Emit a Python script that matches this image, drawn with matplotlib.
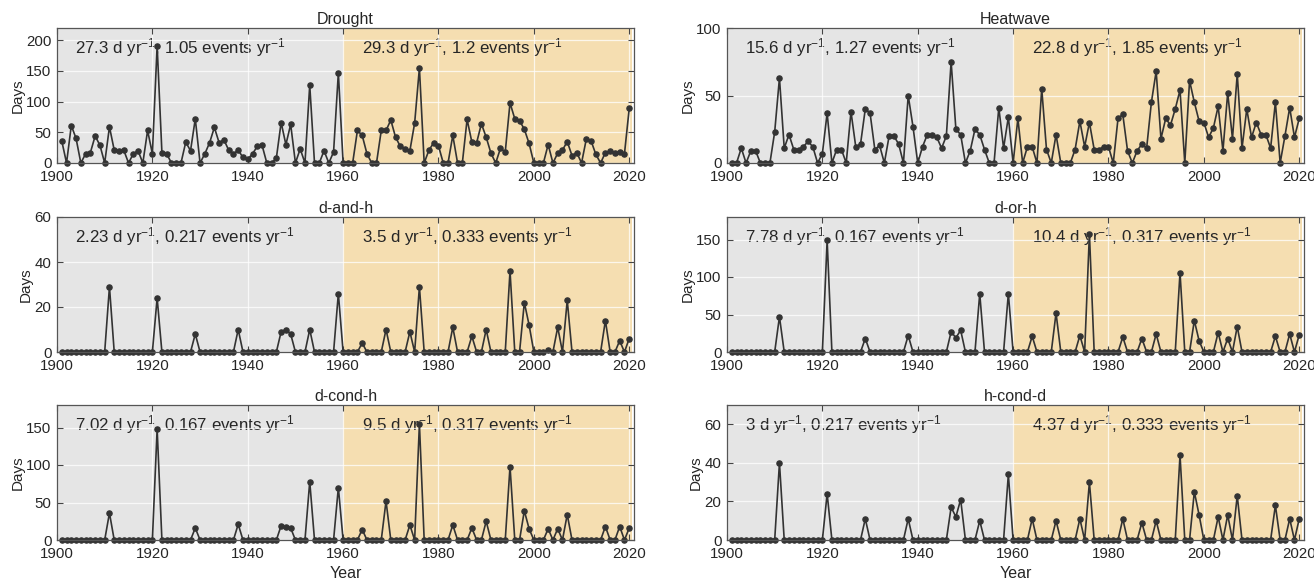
import matplotlib
matplotlib.use("Agg")
import matplotlib.pyplot as plt
import matplotlib.transforms as mtransforms
import numpy as np

plt.rcParams['font.family'] = ['Liberation Sans', 'DejaVu Sans']
plt.rcParams['mathtext.fontset'] = 'custom'
plt.rcParams['mathtext.rm'] = 'Liberation Sans'
plt.rcParams['mathtext.it'] = 'Liberation Sans:italic'
plt.rcParams['mathtext.default'] = 'regular'

years = list(range(1901, 2021))

drought = [
    36, 0, 61, 40, 0, 15, 17, 44, 29, 0,
    59, 21, 20, 21, 0, 15, 20, 0, 53, 15,
    191, 17, 15, 0, 0, 0, 34, 20, 72, 0,
    15, 33, 58, 33, 38, 21, 15, 21, 9, 6,
    15, 27, 29, 0, 0, 8, 66, 30, 63, 0,
    23, 0, 127, 0, 0, 20, 0, 18, 147, 0,
    0, 0, 53, 45, 15, 0, 0, 53, 53, 70,
    42, 27, 23, 20, 65, 155, 0, 21, 33, 28,
    0, 0, 45, 0, 0, 71, 34, 33, 64, 42,
    16, 0, 24, 18, 98, 72, 69, 55, 32, 0,
    0, 0, 30, 0, 16, 21, 35, 12, 17, 0,
    39, 36, 14, 0, 17, 19, 16, 18, 15, 89,
]

heatwave = [
    0, 0, 11, 0, 9, 9, 0, 0, 0, 23,
    63, 11, 21, 10, 10, 12, 16, 12, 0, 7,
    37, 0, 10, 10, 0, 38, 12, 14, 40, 37,
    10, 13, 0, 20, 20, 14, 0, 50, 27, 0,
    12, 21, 21, 19, 11, 20, 75, 25, 21, 0,
    9, 25, 21, 10, 0, 0, 41, 11, 34, 0,
    33, 0, 12, 12, 0, 55, 10, 0, 21, 0,
    0, 0, 10, 31, 12, 30, 10, 10, 12, 12,
    0, 33, 36, 9, 0, 9, 14, 11, 45, 68,
    18, 33, 28, 40, 54, 0, 61, 45, 31, 30,
    19, 26, 42, 9, 52, 18, 66, 11, 40, 19,
    30, 21, 21, 11, 45, 0, 20, 41, 19, 33,
]

d_and_h = [
    0, 0, 0, 0, 0, 0, 0, 0, 0, 0,
    29, 0, 0, 0, 0, 0, 0, 0, 0, 0,
    24, 0, 0, 0, 0, 0, 0, 0, 8, 0,
    0, 0, 0, 0, 0, 0, 0, 10, 0, 0,
    0, 0, 0, 0, 0, 0, 9, 10, 8, 0,
    0, 0, 10, 0, 0, 0, 0, 0, 26, 0,
    0, 0, 0, 4, 0, 0, 0, 0, 10, 0,
    0, 0, 0, 9, 0, 29, 0, 0, 0, 0,
    0, 0, 11, 0, 0, 0, 7, 0, 0, 10,
    0, 0, 0, 0, 36, 0, 0, 22, 12, 0,
    0, 0, 1, 0, 11, 0, 23, 0, 0, 0,
    0, 0, 0, 0, 14, 0, 0, 5, 0, 6,
]

d_or_h = [
    0, 0, 0, 0, 0, 0, 0, 0, 0, 0,
    47, 0, 0, 0, 0, 0, 0, 0, 0, 0,
    149, 0, 0, 0, 0, 0, 0, 0, 18, 0,
    0, 0, 0, 0, 0, 0, 0, 22, 0, 0,
    0, 0, 0, 0, 0, 0, 27, 19, 29, 0,
    0, 0, 78, 0, 0, 0, 0, 0, 78, 0,
    0, 0, 0, 21, 0, 0, 0, 0, 52, 0,
    0, 0, 0, 22, 0, 158, 0, 0, 0, 0,
    0, 0, 20, 0, 0, 0, 18, 0, 0, 24,
    0, 0, 0, 0, 106, 0, 0, 42, 15, 0,
    0, 0, 26, 0, 18, 0, 34, 0, 0, 0,
    0, 0, 0, 0, 21, 0, 0, 24, 0, 23,
]

d_cond_h = [
    0, 0, 0, 0, 0, 0, 0, 0, 0, 0,
    36, 0, 0, 0, 0, 0, 0, 0, 0, 0,
    148, 0, 0, 0, 0, 0, 0, 0, 16, 0,
    0, 0, 0, 0, 0, 0, 0, 21, 0, 0,
    0, 0, 0, 0, 0, 0, 19, 17, 16, 0,
    0, 0, 78, 0, 0, 0, 0, 0, 70, 0,
    0, 0, 0, 14, 0, 0, 0, 0, 52, 0,
    0, 0, 0, 20, 0, 155, 0, 0, 0, 0,
    0, 0, 20, 0, 0, 0, 16, 0, 0, 25,
    0, 0, 0, 0, 98, 0, 0, 39, 15, 0,
    0, 0, 15, 0, 15, 0, 34, 0, 0, 0,
    0, 0, 0, 0, 18, 0, 0, 18, 0, 16,
]

h_cond_d = [
    0, 0, 0, 0, 0, 0, 0, 0, 0, 0,
    40, 0, 0, 0, 0, 0, 0, 0, 0, 0,
    24, 0, 0, 0, 0, 0, 0, 0, 11, 0,
    0, 0, 0, 0, 0, 0, 0, 11, 0, 0,
    0, 0, 0, 0, 0, 0, 17, 12, 21, 0,
    0, 0, 10, 0, 0, 0, 0, 0, 34, 0,
    0, 0, 0, 11, 0, 0, 0, 0, 10, 0,
    0, 0, 0, 11, 0, 30, 0, 0, 0, 0,
    0, 0, 11, 0, 0, 0, 9, 0, 0, 10,
    0, 0, 0, 0, 44, 0, 0, 25, 13, 0,
    0, 0, 12, 0, 13, 0, 23, 0, 0, 0,
    0, 0, 0, 0, 18, 0, 0, 11, 0, 11,
]

titles = ["Drought", "Heatwave", "d-and-h", "d-or-h", "d-cond-h", "h-cond-d"]
series = [drought, heatwave, d_and_h, d_or_h, d_cond_h, h_cond_d]
days_early = ["27.3", "15.6", "2.23", "7.78", "7.02", "3"]
events_early = ["1.05", "1.27", "0.217", "0.167", "0.167", "0.217"]
days_late = ["29.3", "22.8", "3.5", "10.4", "9.5", "4.37"]
events_late = ["1.2", "1.85", "0.333", "0.317", "0.317", "0.333"]
ymax = [220, 100, 60, 180, 180, 70]
yticks = [[0, 50, 100, 150, 200], [0, 50, 100], [0, 20, 40, 60],
          [0, 50, 100, 150], [0, 50, 100, 150], [0, 20, 40, 60]]
xticks = [1900, 1920, 1940, 1960, 1980, 2000, 2020]

W, H = 1314, 580
fig = plt.figure(figsize=(W / 100, H / 100), dpi=100)

lefts = [57, 727]
width = 577
tops = [28, 217, 405]
height = 135

txt_col = '#262626'
line_col = '#333333'
gray = '#e5e5e5'
orange = '#f5deb1'

for i in range(6):
    r, c = divmod(i, 2)
    ax = fig.add_axes([lefts[c] / W, 1 - (tops[r] + height) / H, width / W, height / H])
    ax.set_facecolor('white')
    ax.axvspan(1900, 1960, color=gray, lw=0, zorder=0)
    ax.axvspan(1960, 2020.5, color=orange, lw=0, zorder=0)
    ax.set_xlim(1900, 2021)
    ax.set_ylim(0, ymax[i])
    ax.set_xticks(xticks)
    ax.set_yticks(yticks[i])
    ax.grid(True, color='white', lw=0.9, alpha=0.75, zorder=0.5)
    ax.set_axisbelow(False)
    for gl in ax.get_xgridlines() + ax.get_ygridlines():
        gl.set_zorder(0.5)
    trans = mtransforms.blended_transform_factory(ax.transData, ax.transAxes)
    ax.text(1903.7, 0.815, f"{days_early[i]} d yr$^{{-1}}$, {events_early[i]} events yr$^{{-1}}$",
            transform=trans, fontsize=12.2, color=txt_col, va='baseline', ha='left', zorder=1)
    ax.text(1963.9, 0.815, f"{days_late[i]} d yr$^{{-1}}$, {events_late[i]} events yr$^{{-1}}$",
            transform=trans, fontsize=12.2, color=txt_col, va='baseline', ha='left', zorder=1)
    ax.plot(years, series[i], color=line_col, lw=1.2, marker='o', ms=3.7,
            zorder=3, clip_on=False)
    ax.set_title(titles[i], fontsize=11.5, color=txt_col, pad=3)
    ax.set_ylabel("Days", fontsize=11, color=txt_col, labelpad=1)
    if r == 2:
        ax.set_xlabel("Year", fontsize=11.5, color=txt_col, labelpad=4)
    ax.tick_params(direction='in', top=True, right=True, length=4, width=0.8,
                   colors='#444444', labelcolor=txt_col, labelsize=10.8)
    ax.tick_params(axis='x', pad=5)
    ax.tick_params(axis='y', pad=4)
    for sp in ax.spines.values():
        sp.set_color('#555555')
        sp.set_linewidth(0.9)
        sp.set_zorder(4)

fig.savefig("out.png", dpi=100)
